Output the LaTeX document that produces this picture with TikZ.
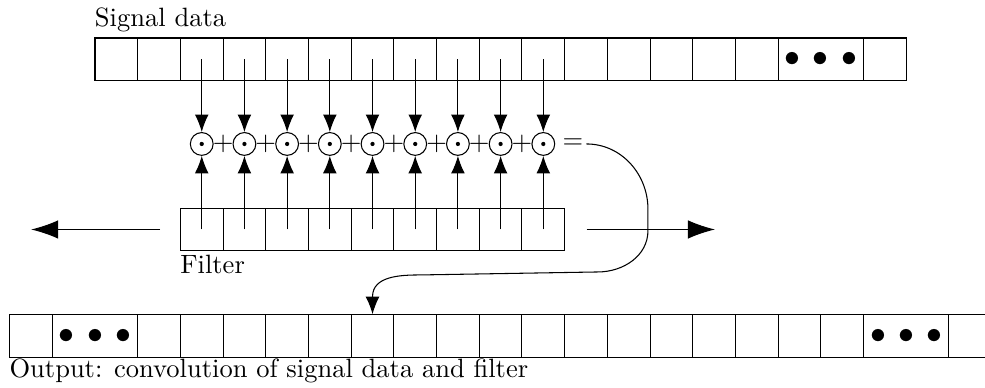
\documentclass[tikz,border=0pt]{standalone}
\usetikzlibrary{arrows.meta}
\begin{document}
\begin{tikzpicture}[x=16.11pt, y=16.11pt,
    cell/.style={draw, minimum width=16.11pt, minimum height=16.11pt, inner sep=0pt},
    widecell/.style={cell, minimum width=32.22pt},
    prod/.style={draw, circle, minimum size=8.6pt, inner sep=0pt,
      path picture={\fill (path picture bounding box.center) circle (0.8pt);}},
    feed/.style={-{Latex[length=6.6pt, width=5.2pt]}},
    slide/.style={-{Latex[length=10.2pt, width=7pt]}}]
  \useasboundingbox (0,0) rectangle (23.07,-9.087);
  % signal data
  \foreach \i in {0,...,15} \node[cell] (s\i) at (2.725+\i,-1.39) {};
  \node[widecell] (s16) at (19.225,-1.39) {\large$\bullet\,\bullet\,\bullet$};
  \node[cell] (s18) at (20.725,-1.39) {};
  \node[anchor=base west, inner sep=0pt] (siglabel) at ([yshift=4.2pt]s0.north west) {Signal data};
  % products and sums
  \foreach \i in {0,...,8} \node[prod] (p\i) at (4.725+\i,-3.372) {};
  \foreach \i in {0,...,7} \node (plus\i) at (5.225+\i,-3.372) {$+$};
  \node[inner sep=1pt] (eq) at (13.42,-3.372) {$=$};
  % filter
  \foreach \i in {0,...,8} \node[cell] (f\i) at (4.725+\i,-5.375) {};
  \node[anchor=base west, inner sep=0pt] (filtlabel) at ([yshift=-8.5pt]f0.south west) {Filter};
  \foreach \i [evaluate=\i as \j using int(\i+2)] in {0,...,8} {
    \draw[feed] (s\j.center) -- (p\i);
    \draw[feed] (f\i.center) -- (p\i);
  }
  % filter moves left and right
  \coordinate (lfrom) at (3.75,-5.375);
  \coordinate (lto) at (0.73,-5.375);
  \coordinate (rfrom) at (13.74,-5.375);
  \coordinate (rto) at (16.745,-5.375);
  \draw[slide] (lfrom) -- (lto);
  \draw[slide] (rfrom) -- (rto);
  % output
  \node[cell] (o0) at (0.725,-7.872) {};
  \node[widecell] (o1) at (2.225,-7.872) {\large$\bullet\,\bullet\,\bullet$};
  \foreach \i in {3,...,19} \node[cell] (o\i) at (0.725+\i,-7.872) {};
  \node[widecell] (o20) at (21.225,-7.872) {\large$\bullet\,\bullet\,\bullet$};
  \node[cell] (o22) at (22.725,-7.872) {};
  \node[anchor=base west, inner sep=0pt] (outlabel) at ([yshift=-7.5pt]o0.south west) {Output: convolution of signal data and filter};
  % result goes into output
  \draw[feed] (eq.east) to[out=0,in=90] (15.176,-4.9) -- (15.176,-5.4)
    to[out=-90,in=0] (14.0,-6.37) -- (9.84,-6.44)
    to[out=180,in=90] (8.725,-6.95) -- (o8.north);
\end{tikzpicture}
\end{document}
